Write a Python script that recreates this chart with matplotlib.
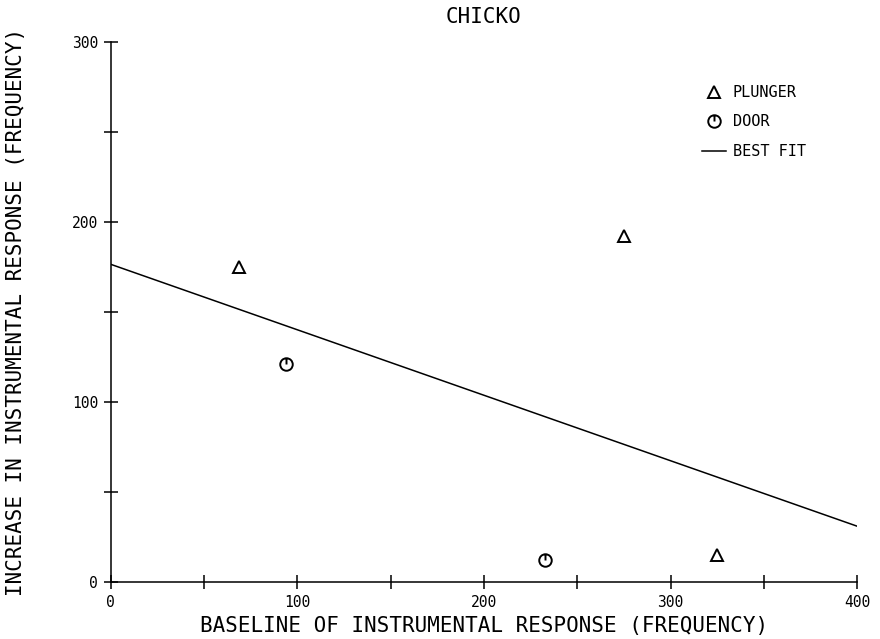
import matplotlib.pyplot as plt
import numpy as np
from matplotlib.lines import Line2D
from matplotlib.path import Path

# Baseline vs increase in instrumental response, subject CHICKO
plunger_x = [69, 275, 325]
plunger_y = [175, 192, 15]
door_x = [94, 233]
door_y = [121, 12]

# Best-fit line endpoints over the plotted range
fit_x = [0, 400]
fit_y = [176.5, 31]

x_ticks = np.arange(0, 401, 50)
y_ticks = np.arange(0, 301, 50)

plt.rcParams["font.family"] = ["DejaVu Sans Mono"]

# Circle with a stroke from the top down to the centre
circle = Path.unit_circle()
stem = Path([(0, 1), (0, 0)], [Path.MOVETO, Path.LINETO])
door_marker = Path.make_compound_path(circle, stem)

fig = plt.figure(figsize=(8.8, 6.39), dpi=100)
ax = fig.add_axes([0.1258, 0.0892, 0.8482, 0.8451])

ax.plot(fit_x, fit_y, color="black", lw=1.1)
ax.plot(plunger_x, plunger_y, linestyle="none", marker="^", markersize=8,
        markerfacecolor="white", markeredgecolor="black", markeredgewidth=1.4)
ax.plot(door_x, door_y, linestyle="none", marker=door_marker, markersize=9,
        markerfacecolor="white", markeredgecolor="black", markeredgewidth=1.4)

ax.set_xlim(0, 400)
ax.set_ylim(0, 300)
ax.spines["top"].set_visible(False)
ax.spines["right"].set_visible(False)
ax.spines["left"].set_linewidth(1.1)
ax.spines["bottom"].set_linewidth(1.1)

ax.set_xticks(x_ticks)
ax.set_xticklabels([str(v) if v % 100 == 0 else "" for v in x_ticks])
ax.set_yticks(y_ticks)
ax.set_yticklabels([str(v) if v % 100 == 0 else "" for v in y_ticks])
ax.tick_params(direction="inout", length=10, width=1.1, labelsize=10.5, pad=4)

ax.set_title("CHICKO", fontsize=15, pad=14)
ax.set_xlabel("BASELINE OF INSTRUMENTAL RESPONSE (FREQUENCY)", fontsize=15,
              labelpad=5)
ax.set_ylabel("INCREASE IN INSTRUMENTAL RESPONSE (FREQUENCY)", fontsize=15,
              labelpad=33)

handles = [
    Line2D([], [], linestyle="none", marker="^", markersize=8,
           markerfacecolor="white", markeredgecolor="black", markeredgewidth=1.4),
    Line2D([], [], linestyle="none", marker=door_marker, markersize=9,
           markerfacecolor="white", markeredgecolor="black", markeredgewidth=1.4),
    Line2D([], [], color="black", lw=1.1),
]
ax.legend(handles, ["PLUNGER", "DOOR", "BEST FIT"], frameon=False,
          fontsize=11, handlelength=1.55, handletextpad=0.45, labelspacing=0.95,
          loc="upper left", bbox_to_anchor=(0.7895, 0.879),
          bbox_transform=fig.transFigure, borderpad=0)

fig.savefig("out.png", dpi=100)
